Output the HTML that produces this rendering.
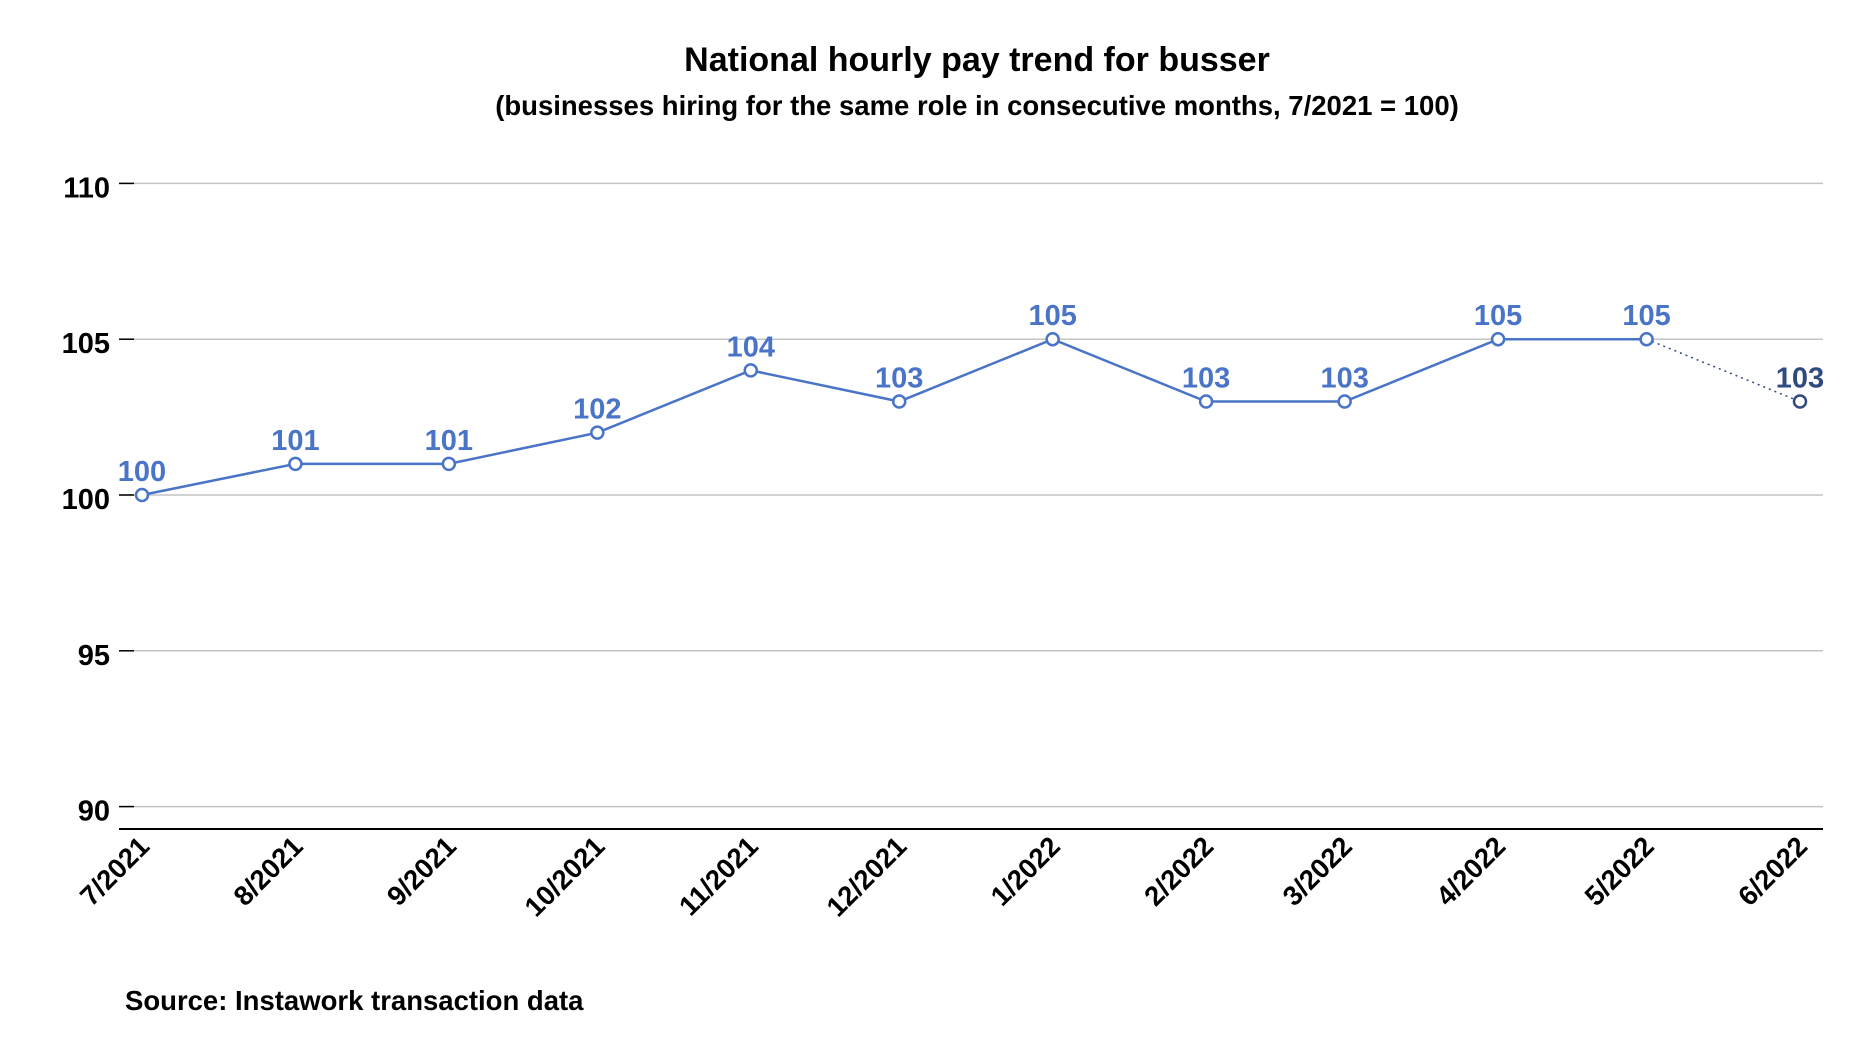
<!DOCTYPE html>
<html><head><meta charset="utf-8"><style>
body{margin:0;background:#fff;}
svg{display:block;font-family:"Liberation Sans",sans-serif;}
</style></head><body>
<svg id="chart" width="1862" height="1064">
<text x="977" y="71" text-anchor="middle" font-size="34" font-weight="bold" fill="#000">National hourly pay trend for busser</text>
<text x="977" y="115" text-anchor="middle" font-size="27.5" font-weight="bold" fill="#000">(businesses hiring for the same role in consecutive months, 7/2021 = 100)</text>
<text x="125" y="1010" font-size="27.5" font-weight="bold" fill="#000">Source: Instawork transaction data</text>
<g id="grid"></g><g id="xaxis"></g><g id="series"></g>
</svg>
<script>
const categories=["7/2021","8/2021","9/2021","10/2021","11/2021","12/2021","1/2022","2/2022","3/2022","4/2022","5/2022","6/2022"];
const dayOffsets=[0,31,62,92,123,153,184,215,243,274,304,335];
const values=[100,101,101,102,104,103,105,103,103,105,105,103];
const yTicks=[90,95,100,105,110];
const NS="http://www.w3.org/2000/svg";
const xS=d=>142+d*(1800-142)/335;
const yS=v=>495-(v-100)*31.16;
function mk(tag,attrs,parent){const e=document.createElementNS(NS,tag);for(const k in attrs)e.setAttribute(k,attrs[k]);parent.appendChild(e);return e;}
const grid=document.getElementById('grid'),xa=document.getElementById('xaxis'),ser=document.getElementById('series');
yTicks.forEach(t=>{
  const y=yS(t);
  const l=mk('line',{x1:119,x2:1823,y1:y,y2:y,stroke:'#c4c4c4','stroke-width':1.5},grid);
  
  
  const tk=mk('line',{x1:119,x2:134,y1:y,y2:y,stroke:'#000','stroke-width':1.5},grid);
  
  
  const tx=mk('text',{x:110,y:y+14,'text-anchor':'end','font-size':29,'font-weight':'bold',fill:'#000'},grid);
  tx.textContent=t;
  
  
});
const ax=mk('line',{x1:119,x2:1823,y1:829,y2:829,stroke:'#000','stroke-width':2},xa);


categories.forEach((c,i)=>{
  const x=xS(dayOffsets[i])+9,y=848;
  const t=mk('text',{x:x,y:y,'text-anchor':'end','font-size':27.5,'font-weight':'bold',fill:'#000',transform:`rotate(-45 ${x} ${y})`},xa);
  t.textContent=c;
  
  
});
const n=values.length;
const pts=values.slice(0,n-1).map((v,i)=>xS(dayOffsets[i])+','+yS(v)).join(' ');
const pl=mk('polyline',{points:pts,fill:'none',stroke:'#4a74c8','stroke-width':2.5},ser);


const dl=mk('line',{x1:xS(dayOffsets[n-2]),y1:yS(values[n-2]),x2:xS(dayOffsets[n-1]),y2:yS(values[n-1]),stroke:'#2f4a80','stroke-width':1.5,'stroke-dasharray':'2,4'},ser);


values.forEach((v,i)=>{
  const x=xS(dayOffsets[i]),y=yS(v),last=i===n-1;
  const col=last?'#2f4a80':'#4a74c8';
  const c=mk('circle',{cx:x,cy:y,r:6,fill:'#fff',stroke:col,'stroke-width':2.5},ser);
  
  
  const t=mk('text',{x:x,y:y-14,'text-anchor':'middle','font-size':29,'font-weight':'bold',fill:last?'#2f4a80':'#4a74c8'},ser);
  t.textContent=v;
  
  
});
</script>
</body></html>
